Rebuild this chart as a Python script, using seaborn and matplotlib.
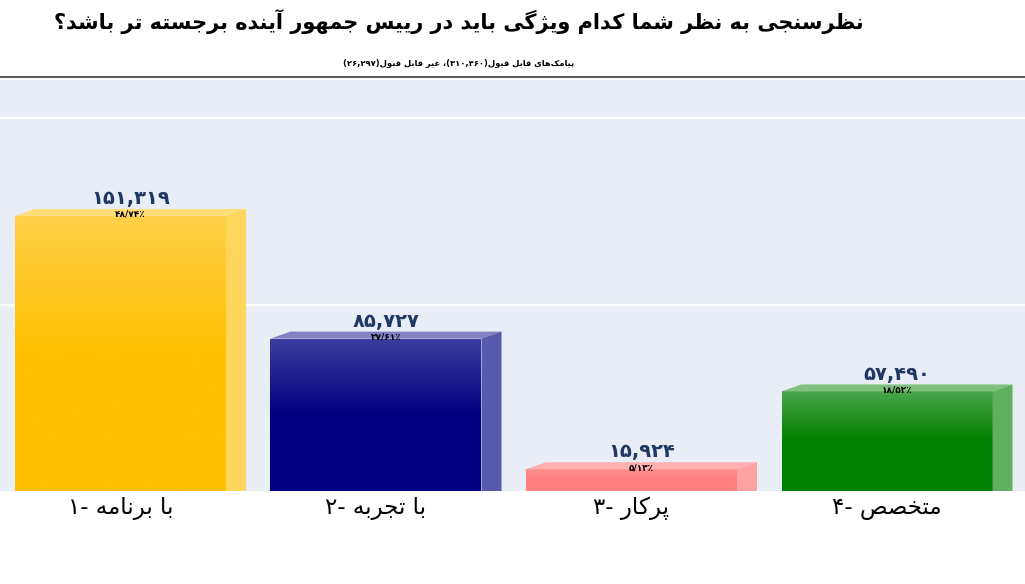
"""
نظرسنجی - نمودار ستونی سه‌بعدی
"""
import re
import numpy as np
import matplotlib
matplotlib.use('Agg')
import matplotlib.pyplot as plt
import seaborn as sns
from matplotlib.patches import Polygon
from matplotlib.lines import Line2D
from matplotlib.colors import LinearSegmentedColormap
from matplotlib.transforms import ScaledTranslation

title = 'نظرسنجی به نظر شما کدام ویژگی باید در رییس جمهور آینده برجسته تر باشد؟'
subtitle = 'پیامک\u200cهای قابل قبول(۳۱۰,۴۶۰)، غیر قابل قبول(۲۶,۲۹۷)'
categories = ['با برنامه -۱', 'با تجربه -۲', 'پرکار -۳', 'متخصص -۴']
values = [151319, 85727, 15924, 57490]
value_labels = ['۱۵۱,۳۱۹', '۸۵,۷۲۷', '۱۵,۹۲۴', '۵۷,۴۹۰']
pct_labels = ['۴۸/۷۴٪', '۲۷/۶۱٪', '۵/۱۳٪', '۱۸/۵۲٪']
gridlines = [100000, 200000]

# رنگ‌ها: (بالای وجه جلو، پایین وجه جلو، وجه بالا، وجه کنار)
bar_colors = [
    ('#FFD04A', '#FFC000', '#FFDE7A', '#FFD65C'),
    ('#3D3D9E', '#000080', '#8080C2', '#5858AC'),
    ('#FF8E8E', '#FF8080', '#FFB0B0', '#FFA2A2'),
    ('#4BA54B', '#008000', '#80C180', '#5FB05F'),
]

# --- شکل‌دهی ساده حروف فارسی (matplotlib خودش این کار را نمی‌کند)
FORMS = {
    'ا': ('\uFE8D', '\uFE8E', None, None), 'آ': ('\uFE81', '\uFE82', None, None),
    'ب': ('\uFE8F', '\uFE90', '\uFE91', '\uFE92'), 'پ': ('\uFB56', '\uFB57', '\uFB58', '\uFB59'),
    'ت': ('\uFE95', '\uFE96', '\uFE97', '\uFE98'), 'ث': ('\uFE99', '\uFE9A', '\uFE9B', '\uFE9C'),
    'ج': ('\uFE9D', '\uFE9E', '\uFE9F', '\uFEA0'), 'چ': ('\uFB7A', '\uFB7B', '\uFB7C', '\uFB7D'),
    'ح': ('\uFEA1', '\uFEA2', '\uFEA3', '\uFEA4'), 'خ': ('\uFEA5', '\uFEA6', '\uFEA7', '\uFEA8'),
    'د': ('\uFEA9', '\uFEAA', None, None), 'ذ': ('\uFEAB', '\uFEAC', None, None),
    'ر': ('\uFEAD', '\uFEAE', None, None), 'ز': ('\uFEAF', '\uFEB0', None, None),
    'ژ': ('\uFB8A', '\uFB8B', None, None),
    'س': ('\uFEB1', '\uFEB2', '\uFEB3', '\uFEB4'), 'ش': ('\uFEB5', '\uFEB6', '\uFEB7', '\uFEB8'),
    'ص': ('\uFEB9', '\uFEBA', '\uFEBB', '\uFEBC'), 'ض': ('\uFEBD', '\uFEBE', '\uFEBF', '\uFEC0'),
    'ط': ('\uFEC1', '\uFEC2', '\uFEC3', '\uFEC4'), 'ظ': ('\uFEC5', '\uFEC6', '\uFEC7', '\uFEC8'),
    'ع': ('\uFEC9', '\uFECA', '\uFECB', '\uFECC'), 'غ': ('\uFECD', '\uFECE', '\uFECF', '\uFED0'),
    'ف': ('\uFED1', '\uFED2', '\uFED3', '\uFED4'), 'ق': ('\uFED5', '\uFED6', '\uFED7', '\uFED8'),
    'ک': ('\uFB8E', '\uFB8F', '\uFB90', '\uFB91'), 'گ': ('\uFB92', '\uFB93', '\uFB94', '\uFB95'),
    'ل': ('\uFEDD', '\uFEDE', '\uFEDF', '\uFEE0'), 'م': ('\uFEE1', '\uFEE2', '\uFEE3', '\uFEE4'),
    'ن': ('\uFEE5', '\uFEE6', '\uFEE7', '\uFEE8'), 'و': ('\uFEED', '\uFEEE', None, None),
    'ه': ('\uFEE9', '\uFEEA', '\uFEEB', '\uFEEC'), 'ی': ('\uFBFC', '\uFBFD', '\uFBFE', '\uFBFF'),
}
MIRROR = {'(': ')', ')': '('}


def rtl(text):
    out = []
    for i, c in enumerate(text):
        if c not in FORMS:
            out.append(c)
            continue
        prev = text[i - 1] if i > 0 else ''
        nxt = text[i + 1] if i + 1 < len(text) else ''
        jp = prev in FORMS and FORMS[prev][2] is not None
        jn = nxt in FORMS and FORMS[c][2] is not None
        f = FORMS[c]
        out.append(f[3] if jp and jn else f[1] if jp else f[2] if jn else f[0])
    s = ''.join(out).replace('\u200c', '')
    tokens = re.findall(r'[0-9۰-۹]+(?:[,/.][0-9۰-۹]+)*٪?|.', s)
    return ''.join(MIRROR.get(t, t) for t in reversed(tokens))


plt.rcParams['font.family'] = ['DejaVu Sans']

W, H = 1025, 584
fig = plt.figure(figsize=(W / 100, H / 100), dpi=100)
ax = fig.add_axes([0, (H - 491) / H, 1, (491 - 80) / H])
ax.set_facecolor('#E9EEF6')

k = 0.001871                 # px per unit
y_lo = 4276
y_hi = y_lo + (491 - 80) / k
step = 255.5
x_lo = -120.5 / step
x_hi = (W - 120.5) / step
dx = 20 / step               # depth, data units
dy = 7 / k

cats_vis = [rtl(c) for c in categories]
sns.barplot(x=cats_vis, y=values, hue=cats_vis, palette=[c[1] for c in bar_colors],
            width=211 / step, saturation=1, legend=False, ax=ax, zorder=3)

# خطوط شبکه روی دیوار پشتی (کمی بالاتر)
back = ax.get_yaxis_transform() + ScaledTranslation(0, 0.07, fig.dpi_scale_trans)
for g in gridlines:
    ax.plot([0, 1], [g, g], transform=back, color='white', lw=1.6, zorder=1)

for i, p in enumerate(ax.patches[:len(values)]):
    x0 = p.get_x()
    x1 = x0 + p.get_width()
    h = p.get_height()
    top_c, bot_c, face_top, face_side = bar_colors[i]
    cmap = LinearSegmentedColormap.from_list('g%d' % i, [bot_c, bot_c, top_c])
    grad = np.linspace(1, 0, 256).reshape(-1, 1)
    im = ax.imshow(grad, extent=[x0, x1, y_lo, h], aspect='auto', cmap=cmap,
                   zorder=3.5, interpolation='bilinear')
    im.set_clip_path(p)
    ax.add_patch(Polygon([(x0, h), (x1, h), (x1 + dx, h + dy), (x0 + dx, h + dy)],
                         closed=True, facecolor=face_top, edgecolor='none', zorder=4))
    ax.add_patch(Polygon([(x1, y_lo - dy), (x1, h), (x1 + dx, h + dy), (x1 + dx, y_lo)],
                         closed=True, facecolor=face_side, edgecolor='none', zorder=4))
    cx = (x0 + x1 + dx) / 2
    ax.text(cx, h + dy + 500, value_labels[i], ha='center', va='bottom',
            fontsize=14, fontweight='bold', color='#1F3864', zorder=5)
    ax.text(cx, h + dy - 500, pct_labels[i], ha='center', va='top',
            fontsize=6.5, fontweight='bold', color='black', zorder=5)

ax.set_xlim(x_lo, x_hi)
ax.set_ylim(y_lo, y_hi)
ax.set_yticks([])
ax.set_xlabel('')
ax.set_ylabel('')
ax.tick_params(axis='x', length=0, pad=4, labelsize=16.5)
for s in ax.spines.values():
    s.set_visible(False)

fig.text(459 / W, 1 - 22 / H, rtl(title), ha='center', va='center',
         fontsize=15, fontweight='bold')
fig.text(459 / W, 1 - 64 / H, rtl(subtitle), ha='center', va='center',
         fontsize=6, fontweight='bold')
fig.add_artist(Line2D([0, 1], [1 - 76.5 / H] * 2, color='#3A3A3A', lw=1.2))

plt.savefig('out.png', dpi=100)
plt.close()
